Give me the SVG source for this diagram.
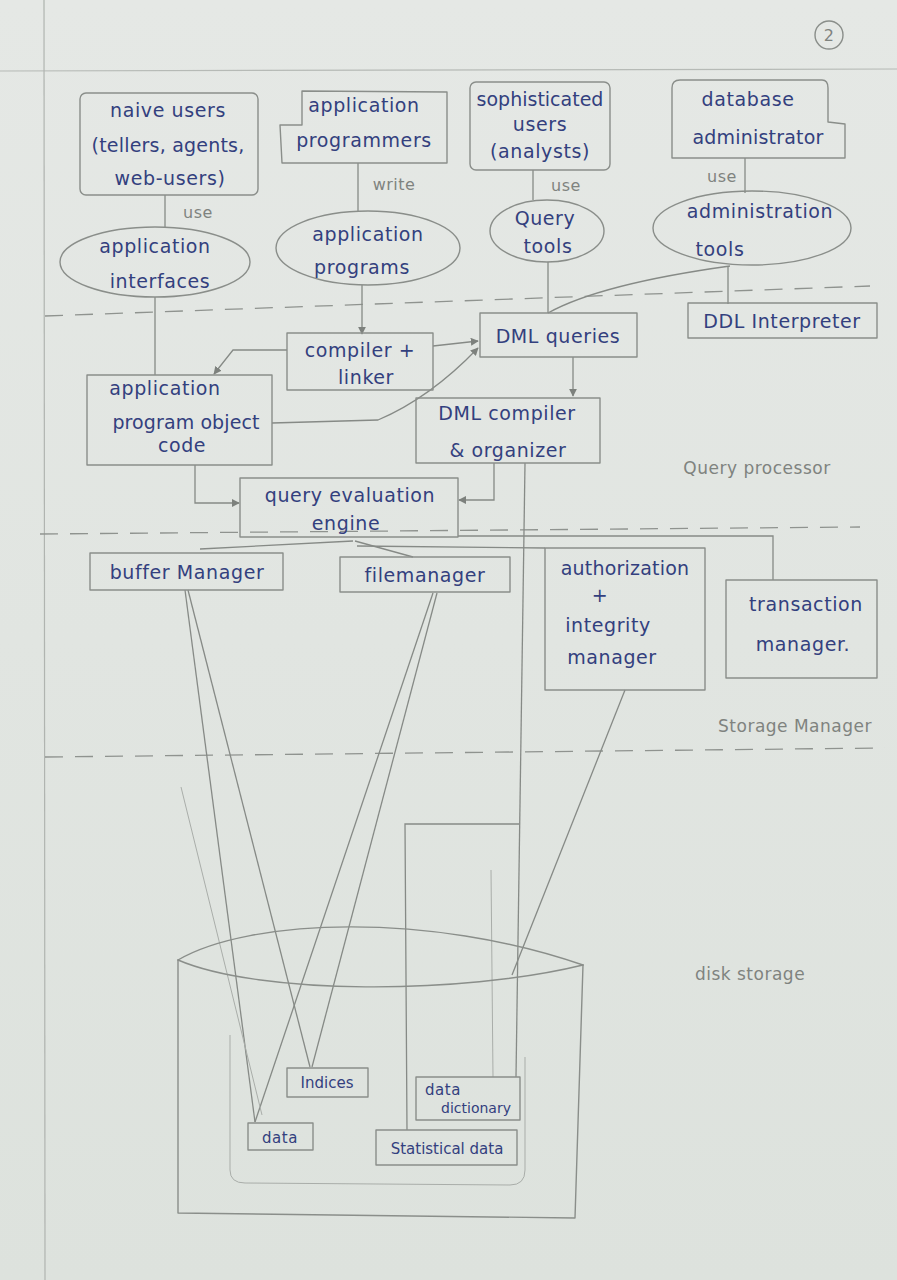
<svg xmlns="http://www.w3.org/2000/svg" width="897" height="1280" viewBox="0 0 897 1280">
<defs>
<marker id="ah" viewBox="0 0 10 10" refX="9" refY="5" markerWidth="8" markerHeight="8" orient="auto" markerUnits="userSpaceOnUse">
<path d="M0,0 L10,5 L0,10 Z" fill="#7d817d"/>
</marker>
<linearGradient id="paper" x1="0" y1="0" x2="0" y2="1">
<stop offset="0" stop-color="#e5e8e5"/>
<stop offset="1" stop-color="#dde2dd"/>
</linearGradient>
</defs>
<style>
.p{fill:none;stroke:#8a8e8a;stroke-width:1.4;stroke-linejoin:round;stroke-linecap:round}
.f{fill:none;stroke:#a9ada9;stroke-width:1}
.d{fill:none;stroke:#8f938f;stroke-width:1.3;stroke-dasharray:18 12}
.t{font-family:"DejaVu Sans",sans-serif;font-size:19px;letter-spacing:0.6px;fill:#33407e;text-anchor:middle}
.g{font-family:"DejaVu Sans",sans-serif;font-size:16px;letter-spacing:0.5px;fill:#7f837f;text-anchor:middle}
.c{stroke:#868a86;stroke-width:1.3;fill:none}
</style>
<rect x="0" y="0" width="897" height="1280" fill="url(#paper)"/>
<!-- page lines -->
<line x1="0" y1="71" x2="897" y2="69" stroke="#b6bab6" stroke-width="1.2"/>
<line x1="44" y1="0" x2="45" y2="1280" stroke="#b0b4b0" stroke-width="1.2"/>
<g id="page-number"><circle cx="829" cy="35" r="14" class="p"/><text x="829" y="41" class="g" fill="#6c706c">2</text></g>
<!-- layer separators -->
<path class="d" d="M45,316 L870,286"/>
<path class="d" d="M40,534 L860,527"/>
<path class="d" d="M45,757 L885,748"/>
<text x="757" y="474" class="g" style="font-size:17px">Query processor</text>
<text x="795" y="732" class="g" style="font-size:17px">Storage Manager</text>
<text x="750" y="980" class="g" style="font-size:17px">disk storage</text>

<g id="connectors">
<path class="c" d="M165,195 V228"/>
<path class="c" d="M358,163 V212"/>
<path class="c" d="M533,170 V200"/>
<path class="c" d="M745,158 V193"/>
<path class="c" d="M155,297 V375"/>
<path class="c" d="M362,285 V334" marker-end="url(#ah)"/>
<path class="c" d="M548,262 V313"/>
<path class="c" d="M730,266 Q600,284 548,313"/>
<path class="c" d="M728,266 V304"/>
<path class="c" d="M433,346 L478,341" marker-end="url(#ah)"/>
<path class="c" d="M287,350 H233 L214,374" marker-end="url(#ah)"/>
<path class="c" d="M272,423 L378,420 Q430,398 478,348" marker-end="url(#ah)"/>
<path class="c" d="M573,357 V396" marker-end="url(#ah)"/>
<path class="c" d="M195,465 V503 H239" marker-end="url(#ah)"/>
<path class="c" d="M494,463 V500 H459" marker-end="url(#ah)"/>
<path class="c" d="M525,463 L516,1077"/>
<path class="c" d="M519,824 H405 L407,1130"/>
<path class="c" d="M353,541 L200,549"/>
<path class="c" d="M355,541 L413,557"/>
<path class="c" d="M357,546 L545,548"/>
<path class="c" d="M458,536 H773 V580"/>
<path class="c" d="M185,590 L255,1122"/>
<path class="c" d="M188,590 L310,1067"/>
<path class="c" d="M433,593 L255,1122"/>
<path class="c" d="M437,593 L312,1067"/>
<path class="c" d="M625,690 L512,975"/>
<path class="f" d="M491,870 L493,1077"/>
<path class="f" d="M181,787 L262,1115"/>
</g>

<g id="naive-users">
<rect x="80" y="93" width="178" height="102" rx="6" class="p"/>
<text x="168" y="117" class="t">naive users</text>
<text x="168" y="152" class="t" style="letter-spacing:0.2px">(tellers, agents,</text>
<text x="170" y="185" class="t">web-users)</text>
</g>
<g id="application-programmers">
<path class="p" d="M302,91 L447,92 L447,163 L282,163 L280,125 L302,125 Z"/>
<text x="364" y="112" class="t">application</text>
<text x="364" y="147" class="t">programmers</text>
</g>
<g id="sophisticated-users">
<rect x="470" y="82" width="140" height="88" rx="6" class="p"/>
<text x="540" y="106" class="t" style="letter-spacing:0px">sophisticated</text>
<text x="540" y="131" class="t">users</text>
<text x="540" y="158" class="t">(analysts)</text>
</g>
<g id="database-administrator">
<path class="p" d="M680,80 L822,80 Q828,80 828,88 L828,122 L845,124 L845,158 L672,158 L672,88 Q672,80 680,80 Z"/>
<text x="748" y="106" class="t">database</text>
<text x="758" y="144" class="t" style="letter-spacing:0.2px">administrator</text>
</g>
<text x="198" y="218" class="g">use</text>
<text x="394" y="190" class="g">write</text>
<text x="566" y="191" class="g">use</text>
<text x="722" y="182" class="g">use</text>

<g id="application-interfaces">
<ellipse cx="155" cy="262" rx="95" ry="35" class="p"/>
<text x="155" y="253" class="t">application</text>
<text x="160" y="288" class="t">interfaces</text>
</g>
<g id="application-programs">
<ellipse cx="368" cy="248" rx="92" ry="37" class="p"/>
<text x="368" y="241" class="t">application</text>
<text x="362" y="274" class="t">programs</text>
</g>
<g id="query-tools">
<ellipse cx="547" cy="231" rx="57" ry="31" class="p"/>
<text x="545" y="225" class="t">Query</text>
<text x="548" y="253" class="t">tools</text>
</g>
<g id="administration-tools">
<ellipse cx="752" cy="228" rx="99" ry="37" class="p"/>
<text x="760" y="218" class="t">administration</text>
<text x="720" y="256" class="t">tools</text>
</g>

<g id="ddl-interpreter">
<rect x="688" y="303" width="189" height="35" class="p"/>
<text x="782" y="328" class="t">DDL Interpreter</text>
</g>
<g id="dml-queries">
<rect x="480" y="313" width="157" height="44" class="p"/>
<text x="558" y="343" class="t">DML queries</text>
</g>
<g id="compiler-linker">
<rect x="287" y="333" width="146" height="57" class="p"/>
<text x="360" y="357" class="t">compiler +</text>
<text x="366" y="384" class="t">linker</text>
</g>
<g id="application-program-object-code">
<rect x="87" y="375" width="185" height="90" class="p"/>
<text x="165" y="395" class="t">application</text>
<text x="186" y="429" class="t" style="letter-spacing:0.1px">program object</text>
<text x="182" y="452" class="t">code</text>
</g>
<g id="dml-compiler">
<rect x="416" y="398" width="184" height="65" class="p"/>
<text x="507" y="420" class="t">DML compiler</text>
<text x="508" y="457" class="t">&amp; organizer</text>
</g>
<g id="query-evaluation-engine">
<rect x="240" y="478" width="218" height="59" class="p"/>
<text x="350" y="502" class="t">query evaluation</text>
<text x="346" y="530" class="t">engine</text>
</g>

<g id="buffer-manager">
<rect x="90" y="553" width="193" height="37" class="p"/>
<text x="187" y="579" class="t">buffer Manager</text>
</g>
<g id="file-manager">
<rect x="340" y="557" width="170" height="35" class="p"/>
<text x="425" y="582" class="t">filemanager</text>
</g>
<g id="authorization-integrity-manager">
<rect x="545" y="548" width="160" height="142" class="p"/>
<text x="625" y="575" class="t" style="letter-spacing:0.2px">authorization</text>
<text x="600" y="602" class="t">+</text>
<text x="608" y="632" class="t">integrity</text>
<text x="612" y="664" class="t">manager</text>
</g>
<g id="transaction-manager">
<rect x="726" y="580" width="151" height="98" class="p"/>
<text x="806" y="611" class="t">transaction</text>
<text x="803" y="651" class="t">manager.</text>
</g>

<g id="disk-storage">
<path class="p" d="M178,960 C250,918 430,912 583,965"/>
<path class="p" d="M178,960 C260,995 460,995 583,965"/>
<path class="p" d="M178,960 L178,1213 L575,1218 L583,965"/>
<path class="f" d="M230,1035 V1170 Q230,1183 245,1183 L510,1185 Q525,1185 525,1170 V1057"/>
</g>
<g id="indices">
<rect x="287" y="1068" width="81" height="29" class="p"/>
<text x="327" y="1088" class="t" style="font-size:15px;letter-spacing:0px">Indices</text>
</g>
<g id="data">
<rect x="248" y="1123" width="65" height="27" class="p"/>
<text x="280" y="1143" class="t" style="font-size:15px">data</text>
</g>
<g id="data-dictionary">
<rect x="416" y="1077" width="104" height="43" class="p"/>
<text x="443" y="1095" class="t" style="font-size:15px">data</text>
<text x="476" y="1113" class="t" style="font-size:14px;letter-spacing:0px">dictionary</text>
</g>
<g id="statistical-data">
<rect x="376" y="1130" width="141" height="35" class="p"/>
<text x="447" y="1154" class="t" style="font-size:15px;letter-spacing:0px">Statistical data</text>
</g>
</svg>
